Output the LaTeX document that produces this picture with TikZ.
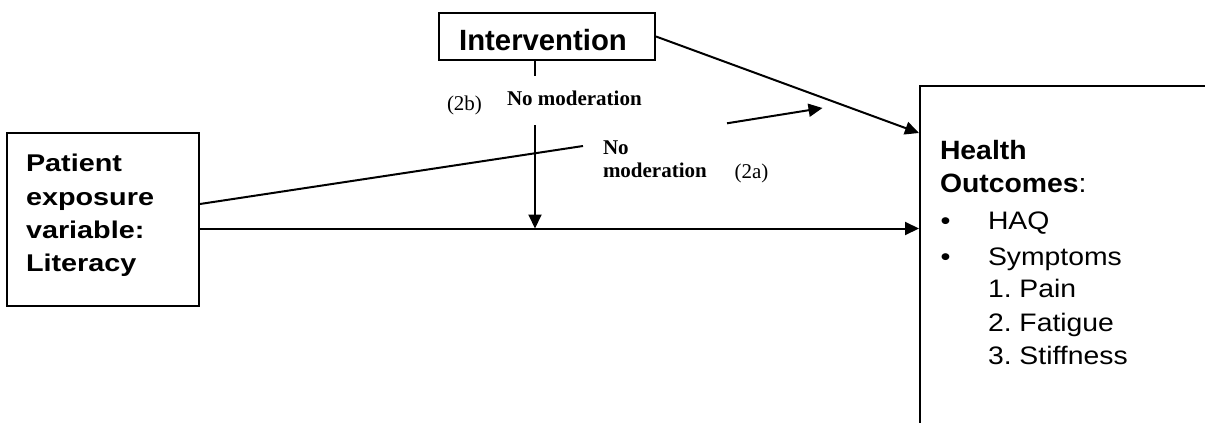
\documentclass[tikz,border=0pt]{standalone}
\usepackage{fontspec}
\setmainfont{Liberation Serif}
\setsansfont{Liberation Sans}
\newfontfamily\exposurefont[FakeStretch=1.19]{Liberation Sans}
\newfontfamily\outcomefont[FakeStretch=1.07]{Liberation Sans}
\newfontfamily\listfont[FakeStretch=1.12]{Liberation Sans}
\usetikzlibrary{arrows.meta}
\begin{document}
\frenchspacing
\begin{tikzpicture}[x=1pt,y=-1pt,
  line width=2pt,
  frame/.style={draw, line width=2pt, inner sep=0pt},
  tip/.style={-{Triangle[length=14pt,width=13pt]}},
  txt/.style={inner sep=0pt, anchor=base west},
  exposure/.style={txt, font=\exposurefont\bfseries\fontsize{24.2}{33}\selectfont},
  heading/.style={txt, font=\outcomefont\bfseries\fontsize{26.5}{34}\selectfont},
  item/.style={txt, font=\listfont\fontsize{25.3}{34}\selectfont},
  note/.style={txt, font=\bfseries\fontsize{21}{25}\selectfont},
  tag/.style={txt, font=\fontsize{21}{25}\selectfont}]
\useasboundingbox (0,0) rectangle (1205,423);
\clip (0,0) rectangle (1205,423);

% boxes
\node[frame, minimum width=216pt, minimum height=47pt, text height=27pt, text depth=0pt,
      font=\sffamily\bfseries\fontsize{29.3}{34}\selectfont] (interv) at (547,36.5) {\kern-8pt Intervention};
\node[frame, minimum width=192.3pt, minimum height=173pt] (patient) at (102.85,219.5) {};
\node[frame, minimum width=320pt, minimum height=380pt, anchor=north west] (health) at (919,85) {};

% exposure box text
\node[exposure] (p1) at (25,171) {Patient};
\node[exposure] (p2) at (25,205) {exposure};
\node[exposure] (p3) at (25,238.3) {variable:};
\node[exposure] (p4) at (25,271.5) {Literacy};

% outcome box text
\node[heading] (h1) at (939,159) {Health};
\node[heading] (h2) at (939,192.3) {Outcomes\mdseries:};
\node[item] (b1) at (939.5,229) {•};
\node[item] (b2) at (939.5,265) {•};
\node[item] (i1) at (987,229) {HAQ};
\node[item] (i2) at (987,265) {Symptoms};
\node[item] (i3) at (987,297.7) {1. Pain};
\node[item] (i4) at (987,331.7) {2. Fatigue};
\node[item] (i5) at (987,364.3) {3. Stiffness};

% moderation labels
\node[tag] (l2b) at (446,110.5) {(2b)};
\node[note] (n2b) at (506,105.7) {No moderation};
\node[note] (n2a1) at (602,154) {No};
\node[note] (n2a2) at (602,177.3) {moderation};
\node[tag] (l2a) at (733.5,178) {(2a)};

% connector points
\coordinate (m) at (535,228.5);
\coordinate (stubend) at (535,76);
\coordinate (downstart) at (535,125);
\coordinate (a1) at (583,146);
\coordinate (a2) at (727,123.3);
\coordinate (a3) at (822.5,108);
\coordinate (t) at (919,133);

% connectors
\draw[tip] (patient.east |- m) -- (health.west |- m);
\draw (interv.south -| m) -- (stubend);
\draw[tip] (downstart) -- (m);
\draw ([yshift=15.5pt]patient.east) -- (a1);
\draw[tip] (a2) -- (a3);
\draw[tip] (interv.east) -- (health.west |- t);
\end{tikzpicture}
\end{document}
